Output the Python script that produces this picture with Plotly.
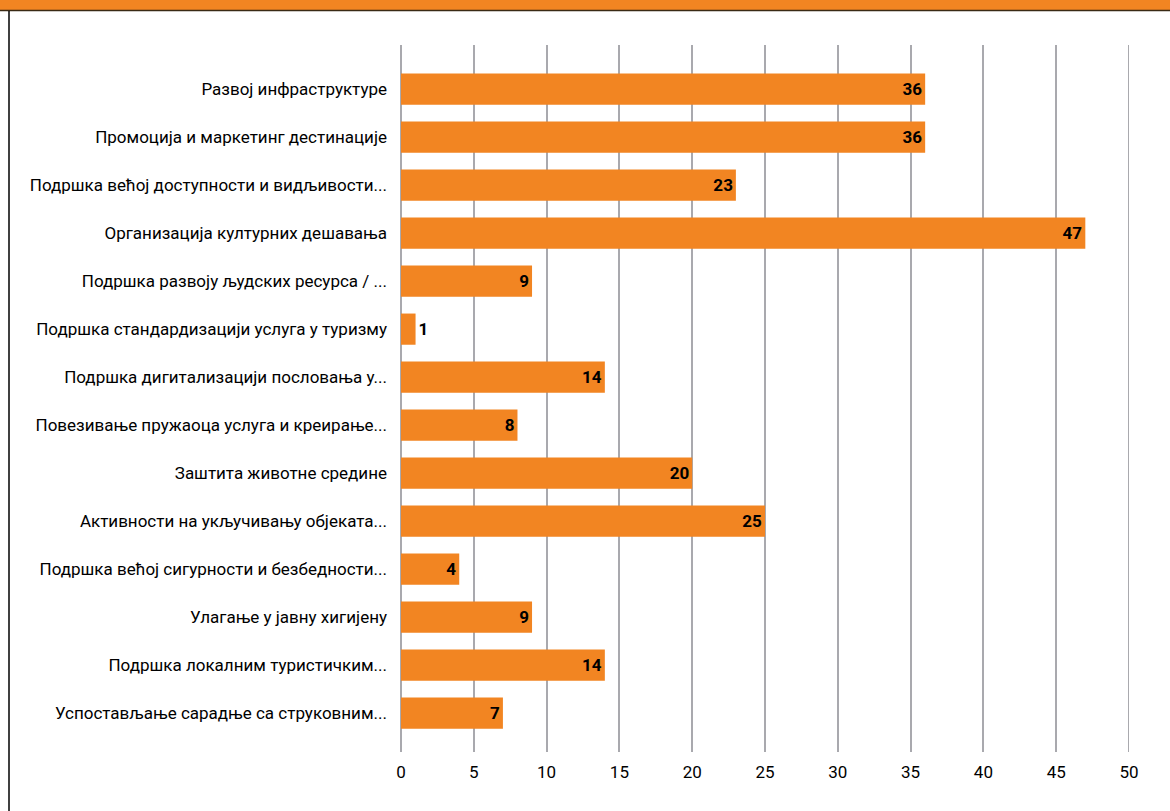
import plotly.graph_objects as go

categories = [
    "Развој инфраструктуре",
    "Промоција и маркетинг дестинације",
    "Подршка већој доступности и видљивости...",
    "Организација културних дешавања",
    "Подршка развоју људских ресурса / ...",
    "Подршка стандардизацији услуга у туризму",
    "Подршка дигитализацији пословања у...",
    "Повезивање пружаоца услуга и креирање...",
    "Заштита животне средине",
    "Активности на укључивању објеката...",
    "Подршка већој сигурности и безбедности...",
    "Улагање у јавну хигијену",
    "Подршка локалним туристичким...",
    "Успостављање сарадње са струковним...",
]
values = [36, 36, 23, 47, 9, 1, 14, 8, 20, 25, 4, 9, 14, 7]
x_ticks = [0, 5, 10, 15, 20, 25, 30, 35, 40, 45, 50]

ORANGE = "#F28522"
GRID = "#A9A9AE"
FONT = "Roboto, Liberation Sans, sans-serif"

positions = ["outside" if v < 3 else "inside" for v in values]

fig = go.Figure(
    go.Bar(
        x=values,
        y=categories,
        orientation="h",
        marker=dict(color=ORANGE, line=dict(width=0)),
        text=[f"<b>{v}</b>" for v in values],
        textposition=positions,
        insidetextanchor="end",
        textfont=dict(family=FONT, size=17, color="black"),
        outsidetextfont=dict(family=FONT, size=17, color="black"),
        cliponaxis=False,
        width=0.65,
    )
)

fig.update_layout(
    width=1170,
    height=811,
    margin=dict(l=401, r=41, t=45, b=59),
    paper_bgcolor="white",
    plot_bgcolor="white",
    showlegend=False,
    font=dict(family=FONT, size=17, color="black"),
    uniformtext=dict(minsize=17, mode="show"),
    xaxis=dict(
        range=[0, 50],
        tickvals=x_ticks,
        ticktext=[str(t) for t in x_ticks],
        showgrid=True,
        gridcolor=GRID,
        gridwidth=2,
        zeroline=True,
        zerolinecolor=GRID,
        zerolinewidth=2,
        showline=False,
        ticks="",
        tickfont=dict(family=FONT, size=17, color="black"),
        ticklabelstandoff=8,
    ),
    yaxis=dict(
        categoryorder="array",
        categoryarray=categories,
        range=[13.81, -0.92],
        showgrid=False,
        zeroline=False,
        showline=False,
        ticks="",
        ticklabelstandoff=13,
        tickfont=dict(family=FONT, size=17, color="black"),
    ),
    shapes=[
        # gridline at the last tick (plotly skips the one on the range edge)
        dict(type="line", xref="x", yref="paper", x0=x_ticks[-1], x1=x_ticks[-1],
             y0=0, y1=1, line=dict(color=GRID, width=2), layer="below"),
        # header band
        dict(type="rect", xref="paper", yref="paper", x0=-1, x1=2,
             y0=1 + (45 - 10) / 707, y1=1 + 45 / 707,
             fillcolor=ORANGE, line=dict(width=0), layer="above"),
        dict(type="line", xref="paper", yref="paper", x0=-1, x1=2,
             y0=1 + (45 - 10.5) / 707, y1=1 + (45 - 10.5) / 707,
             line=dict(color="#3A2A14", width=1.5)),
        # frame edge on the left
        dict(type="line", xref="paper", yref="paper",
             x0=-(401 - 9) / 728, x1=-(401 - 9) / 728,
             y0=-1, y1=1 + (45 - 11) / 707,
             line=dict(color="black", width=1.5)),
    ],
)

fig.write_html("out.html")
